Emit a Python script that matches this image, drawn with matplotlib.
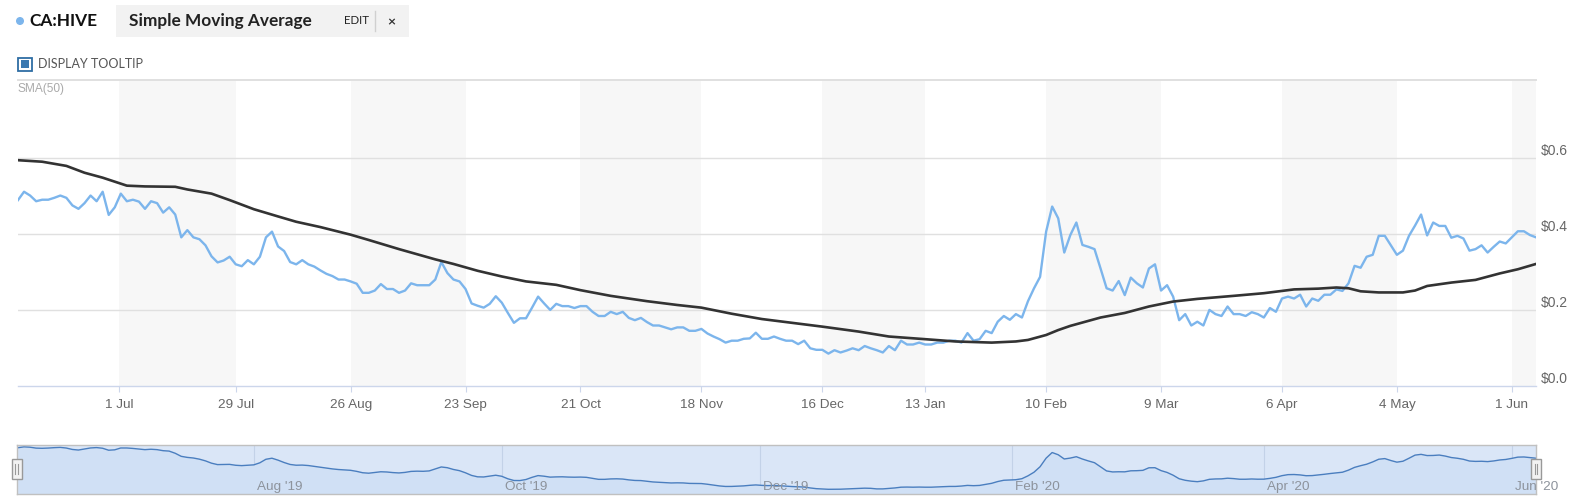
import numpy as np
import pandas as pd
import matplotlib
matplotlib.use("Agg")
import matplotlib.pyplot as plt
from matplotlib.patches import Rectangle, Circle
from matplotlib.transforms import blended_transform_factory, offset_copy

plt.rcParams['font.family'] = ['Liberation Sans', 'DejaVu Sans']

W, H = 1573, 504

# TSX-V trading days, 6 Jun 2019 .. 5 Jun 2020
holidays = ["2019-07-01", "2019-08-05", "2019-09-02", "2019-10-14", "2019-12-25",
            "2019-12-26", "2020-01-01", "2020-02-17", "2020-04-10", "2020-05-18"]
dates = pd.bdate_range("2019-06-06", "2020-06-05")
dates = dates[~dates.isin(pd.to_datetime(holidays))]

# daily close, CA:HIVE
price = [
    0.490, 0.512, 0.502, 0.487, 0.491, 0.491, 0.496, 0.502, 0.496, 0.476,
    0.467, 0.482, 0.502, 0.487, 0.512, 0.451, 0.471, 0.507, 0.487, 0.491,
    0.486, 0.467, 0.487, 0.482, 0.457, 0.471, 0.452, 0.392, 0.411, 0.392,
    0.387, 0.371, 0.342, 0.326, 0.331, 0.341, 0.321, 0.316, 0.332, 0.321,
    0.341, 0.392, 0.407, 0.368,
    0.356, 0.327, 0.321, 0.332, 0.321, 0.315, 0.305, 0.296, 0.290, 0.281,
    0.281, 0.276, 0.270, 0.246, 0.246, 0.252, 0.269, 0.256, 0.256, 0.246,
    0.252, 0.271, 0.266, 0.266, 0.266, 0.281, 0.327, 0.298, 0.281, 0.276,
    0.256, 0.218, 0.212, 0.207, 0.217, 0.237, 0.220, 0.193, 0.167, 0.179,
    0.179, 0.207,
    0.236, 0.218, 0.201, 0.217, 0.211, 0.211, 0.206, 0.211, 0.211, 0.196,
    0.185, 0.185, 0.196, 0.190, 0.196, 0.180, 0.174, 0.180, 0.169, 0.160,
    0.160, 0.155, 0.150, 0.155, 0.155, 0.146, 0.146, 0.151, 0.139, 0.131,
    0.124, 0.115, 0.120, 0.120, 0.125, 0.126, 0.141, 0.125, 0.125, 0.131,
    0.125, 0.120, 0.120, 0.111,
    0.120, 0.100, 0.096, 0.096, 0.086, 0.095, 0.089, 0.094, 0.100, 0.095,
    0.106, 0.100, 0.095, 0.089, 0.106, 0.095, 0.120, 0.110, 0.110, 0.115,
    0.110, 0.110, 0.115, 0.115, 0.120, 0.120, 0.115, 0.140, 0.120, 0.124,
    0.146, 0.140, 0.170, 0.185, 0.175, 0.190, 0.181, 0.224, 0.258, 0.288,
    0.407, 0.473, 0.442,
    0.352, 0.398, 0.431, 0.372, 0.367, 0.361, 0.310, 0.258, 0.252, 0.277,
    0.240, 0.286, 0.271, 0.260, 0.310, 0.321, 0.252, 0.266, 0.236, 0.174,
    0.190, 0.160, 0.170, 0.160, 0.201, 0.190, 0.185, 0.210, 0.190, 0.190,
    0.185, 0.195, 0.190, 0.181, 0.206, 0.196, 0.231, 0.236, 0.231, 0.241,
    0.210, 0.231, 0.225,
    0.241, 0.241, 0.255, 0.251, 0.271, 0.317, 0.312, 0.341, 0.346, 0.396,
    0.396, 0.371, 0.346, 0.357, 0.396, 0.423, 0.452, 0.397, 0.431, 0.422,
    0.422, 0.391, 0.396, 0.389, 0.357, 0.361, 0.371, 0.352, 0.367, 0.381,
    0.376, 0.392, 0.408, 0.408, 0.398, 0.392,
]

# SMA(50), read at these trading-day numbers
sma_day = [0, 4, 8, 11, 14, 18, 21, 26, 28, 32, 35, 39, 43, 46, 50, 55, 58, 63, 69,
           72, 76, 80, 84, 89, 93, 98, 104, 109, 113, 118, 123, 129, 133, 139, 144,
           150, 155, 159, 161, 165, 167, 170, 172, 174, 179, 183, 187, 191, 195, 201,
           206, 211, 215, 218, 220, 222, 225, 229, 231, 233, 237, 241, 245, 248, 251]
sma_val = [0.595, 0.591, 0.580, 0.562, 0.549, 0.528, 0.526, 0.525, 0.518, 0.507,
           0.490, 0.466, 0.447, 0.433, 0.419, 0.399, 0.385, 0.361, 0.334, 0.322,
           0.304, 0.289, 0.276, 0.267, 0.253, 0.238, 0.224, 0.214, 0.207, 0.191,
           0.177, 0.165, 0.157, 0.144, 0.131, 0.124, 0.118, 0.116, 0.115, 0.118,
           0.122, 0.135, 0.148, 0.159, 0.181, 0.193, 0.210, 0.223, 0.230, 0.238,
           0.245, 0.255, 0.257, 0.260, 0.258, 0.250, 0.247, 0.247, 0.252, 0.264,
           0.273, 0.280, 0.297, 0.308, 0.322]

week_ticks = ["2019-07-01", "2019-07-29", "2019-08-26", "2019-09-23", "2019-10-21",
              "2019-11-18", "2019-12-16", "2020-01-13", "2020-02-10", "2020-03-09",
              "2020-04-06", "2020-05-04", "2020-06-01"]
week_labels = ["1 Jul", "29 Jul", "26 Aug", "23 Sep", "21 Oct", "18 Nov", "16 Dec",
               "13 Jan", "10 Feb", "9 Mar", "6 Apr", "4 May", "1 Jun"]
month_ticks = ["2019-08-01", "2019-10-01", "2019-12-01", "2020-02-01", "2020-04-01", "2020-06-01"]
month_labels = ["Aug '19", "Oct '19", "Dec '19", "Feb '20", "Apr '20", "Jun '20"]
y_ticks = [0.0, 0.2, 0.4, 0.6]

x = np.arange(len(dates))
ts = dates.asi8


def pos(d):
    # ordinal position of a calendar date on the trading-day axis
    return np.interp(pd.Timestamp(d).value, ts, x)


fig = plt.figure(figsize=(W / 100, H / 100), dpi=100)

# main chart
top, bot = 80, 386.3
ax = fig.add_axes([18 / W, (H - bot) / H, (1536 - 18) / W, (bot - top) / H])
ax.set_xlim(x[0], x[-1])
ax.set_ylim(0, (bot - top) / 380)

wk = [pos(d) for d in week_ticks]
for i in range(0, len(wk), 2):
    x1 = wk[i + 1] if i + 1 < len(wk) else x[-1]
    ax.axvspan(wk[i], x1, color='#f7f7f7', lw=0, zorder=0)
for v in y_ticks[1:]:
    ax.axhline(v, color='#e0e0e0', lw=1.0, zorder=1)

ax.plot(x, price, color='#7cb5ec', lw=1.7, zorder=3, solid_joinstyle='round')
ax.plot(sma_day, sma_val, color='#333333', lw=1.9, zorder=4)

ax.set_xticks(wk, week_labels)
ax.set_yticks([])
ax.tick_params(axis='x', length=4.5, width=0.8, color='#ccd6eb', pad=5,
               labelsize=9.7, labelcolor='#666666')
for s in ['left', 'right']:
    ax.spines[s].set_visible(False)
ax.spines['top'].set_color('#e0e0e0')
ax.spines['top'].set_linewidth(1.4)
ax.spines['bottom'].set_color('#ccd6eb')
ax.spines['bottom'].set_linewidth(1.0)

ytr = offset_copy(blended_transform_factory(ax.transAxes, ax.transData), fig=fig, x=5, y=7.5, units='dots')
for v in y_ticks:
    ax.text(1.0, v, f"${v:.1f}", transform=ytr, va='center', ha='left',
            fontsize=10, color='#666666')

# navigator: light smoothing, as the library's data grouping does
padded = np.r_[price[0], price, price[-1]]
nav_price = np.convolve(padded, [0.25, 0.5, 0.25], mode='valid')
nt, nb = 444.7, 494
nav = fig.add_axes([17 / W, (H - nb) / H, (1536 - 17) / W, (nb - nt) / H])
nav.set_xlim(x[0] - 0.15, x[-1])
nav.set_ylim(0.045, 0.525)
nav.set_facecolor('#dae6f7')
nav.fill_between(x, nav_price, 0, color='#d0e0f5', lw=0)
nav.plot(x, nav_price, color='#4a7ebf', lw=1.0)
ntr = offset_copy(blended_transform_factory(nav.transData, nav.transAxes), fig=fig, x=3, y=0, units='dots')
for d, lab in zip(month_ticks, month_labels):
    p = pos(d)
    nav.axvline(p, color='#c3d2e8', lw=0.8, zorder=0.5)
    nav.text(p, 0.09, lab, transform=ntr, va='baseline', ha='left', fontsize=9.7,
             color='#8d939c', clip_on=False)
nav.set_xticks([])
nav.set_yticks([])
for s in nav.spines.values():
    s.set_color('#c0c0c0')
    s.set_linewidth(1.0)

# header and handles, drawn in pixel coordinates
ov = fig.add_axes([0, 0, 1, 1], zorder=10)
ov.set_xlim(0, W)
ov.set_ylim(H, 0)
ov.axis('off')
ov.patch.set_alpha(0)

ov.add_patch(Circle((20, 21), 3.3, color='#7cb5ec'))
ov.text(29, 21, "CA:HIVE", family=['Lato', 'DejaVu Sans'], weight='bold',
        fontsize=12.4, color='#111111', va='center', ha='left')
ov.add_patch(Rectangle((116, 5), 293, 32, color='#f2f2f2', lw=0))
ov.text(129, 21, "Simple Moving Average", family=['Lato', 'DejaVu Sans'], weight='bold',
        fontsize=12.4, color='#222222', va='center', ha='left')
ov.text(344, 21, "EDIT", family=['Lato', 'DejaVu Sans'], fontsize=8.3,
        color='#222222', va='center', ha='left')
ov.plot([375, 375], [11, 31], color='#d0d0d0', lw=1)
ov.text(391, 22, "×", family=['Lato', 'DejaVu Sans'], weight='bold', fontsize=10,
        color='#333333', va='center', ha='center')

ov.add_patch(Rectangle((17.5, 57.5), 14, 13.5, facecolor='white', edgecolor='#2e6da4', lw=1.3))
ov.add_patch(Rectangle((20.7, 60.3), 8, 8, color='#3a78b0', lw=0))
ov.text(38, 64.5, "DISPLAY TOOLTIP", family=['Lato', 'DejaVu Sans'], fontsize=9,
        color='#555555', va='center', ha='left')
ov.text(18, 89, "SMA(50)", fontsize=8.6, color='#aaaaaa', va='center', ha='left')

for hx in (11.5, 1531):
    ov.add_patch(Rectangle((hx, 459), 10, 19.5, facecolor='#f2f2f2', edgecolor='#999999', lw=1))
    ov.plot([hx + 3.8, hx + 3.8], [464, 473.5], color='#999999', lw=0.8)
    ov.plot([hx + 6.2, hx + 6.2], [464, 473.5], color='#999999', lw=0.8)

fig.savefig("out.png", dpi=100)
